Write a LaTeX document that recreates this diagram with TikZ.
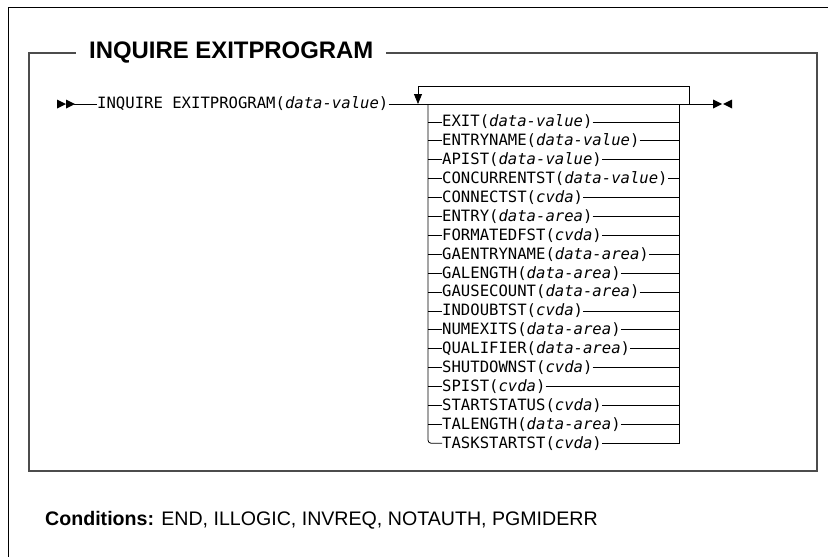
\documentclass[tikz,border=0pt]{standalone}
\usepackage{fontspec}
\setmainfont{Liberation Sans}
\setmonofont{DejaVu Sans Mono}
\usetikzlibrary{arrows.meta, positioning}

\begin{document}
\begin{tikzpicture}[
    x=1pt, y=-1pt,
    rail/.style={draw=black, line width=0.8pt},
    frame/.style={draw=black!70, line width=1.3pt},
    kw/.style={
        font=\fontsize{15.6}{18}\selectfont\ttfamily,
        inner sep=0pt,
        anchor=west
    },
    heading/.style={
        font=\fontsize{23.9}{28}\selectfont\bfseries,
        fill=white,
        inner xsep=13pt,
        inner ysep=2pt,
        anchor=west
    },
    rtri/.pic={\fill (0,-4.5) -- (9,0) -- (0,4.5) -- cycle;},
    ltri/.pic={\fill (9,-4.5) -- (0,0) -- (9,4.5) -- cycle;}
]
    \useasboundingbox (0,0) rectangle (828,557);

    % Outer page lines
    \coordinate (pagecorner) at (8,7);
    \draw[line width=0.8pt] (828,7) -- (pagecorner) -- (8,557);

    % Syntax frame and its title
    \draw[frame] (29,53) rectangle (817,471);
    \draw[black!70, line width=2pt] (817,53) -- (817,471);
    \node[heading] (title) at (76,53) {INQUIRE EXITPROGRAM};

    % Main rail
    \pic at (57,104) {rtri};
    \pic at (66,104) {rtri};
    \coordinate (begin) at (74,104);
    \node[kw] (cmd) at (97,104) {INQUIRE EXITPROGRAM(\textit{data-value})};
    \coordinate (ljoin) at (418,104);
    \coordinate (lsplit) at (428,104);
    \coordinate (rsplit) at (679,104);
    \coordinate (rjoin) at (689,104);
    \coordinate (finish) at (713,104);
    \draw[rail] (begin) -- (cmd.west);
    \draw[rail] (cmd.east) -- (finish);
    \pic at (713,104) {rtri};
    \pic at (723,104) {ltri};

    % Repeat loop
    \coordinate (rtop) at (689,86);
    \coordinate (ltop) at (418,86);
    \draw[rail, -{Triangle[length=10pt, width=8pt]}] (rjoin) -- (rtop) -- (ltop) -- (ljoin);

    % Options
    \foreach \key/\arg [count=\i] in {
        EXIT/data-value, ENTRYNAME/data-value, APIST/data-value,
        CONCURRENTST/data-value, CONNECTST/cvda, ENTRY/data-area,
        FORMATEDFST/cvda, GAENTRYNAME/data-area, GALENGTH/data-area,
        GAUSECOUNT/data-area, INDOUBTST/cvda, NUMEXITS/data-area,
        QUALIFIER/data-area, SHUTDOWNST/cvda, SPIST/cvda,
        STARTSTATUS/cvda, TALENGTH/data-area, TASKSTARTST/cvda} {
        \node[kw] (opt\i) at (442, 103+18.9*\i) {\key(\textit{\arg})};
        \draw[rail] (opt\i.east) -- (opt\i.east -| rsplit);
    }
    \foreach \i in {1,...,17} {
        \draw[rail] (opt\i.west -| lsplit) -- (opt\i.west);
    }
    \draw[rail, rounded corners=3pt] (lsplit) |- (opt18.west);
    \draw[rail] (rsplit) |- (opt18.east);

    % Conditions
    \node[anchor=west, inner sep=0pt, font=\fontsize{19.6}{24}\selectfont] (conds) at (45,520)
        {\textbf{Conditions:} END, ILLOGIC, INVREQ, NOTAUTH, PGMIDERR};

\end{tikzpicture}
\end{document}
